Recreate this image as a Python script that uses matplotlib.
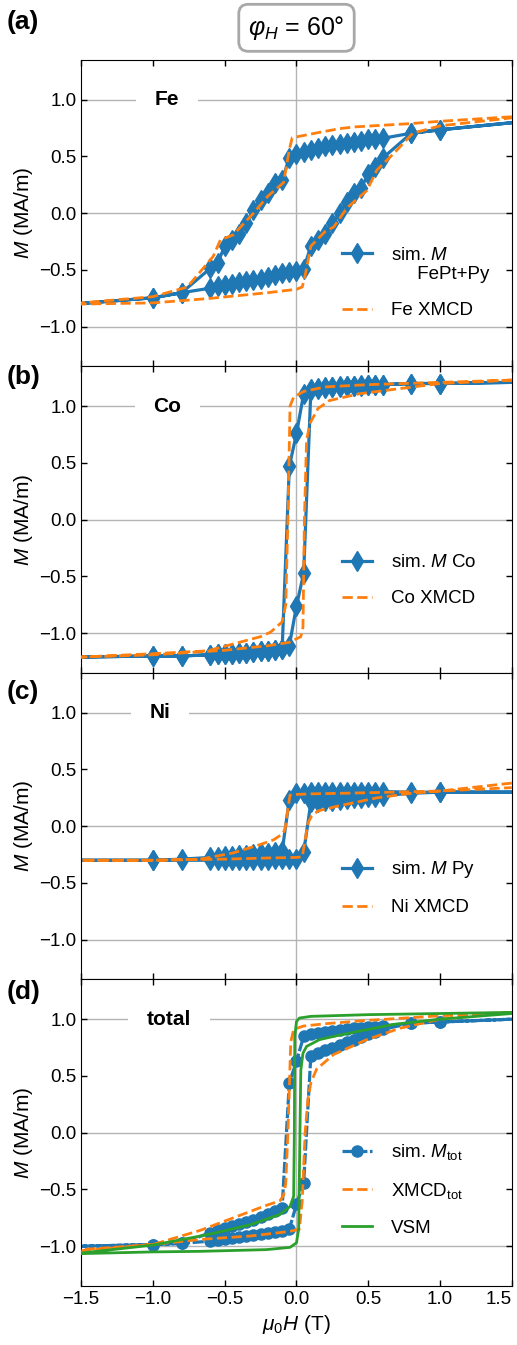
import matplotlib
matplotlib.use('Agg')
import matplotlib.pyplot as plt

plt.rcParams['font.family'] = ['Liberation Sans', 'DejaVu Sans']
plt.rcParams['mathtext.fontset'] = 'custom'
plt.rcParams['mathtext.rm'] = 'Liberation Sans'
plt.rcParams['mathtext.it'] = 'Liberation Sans:italic'
plt.rcParams['mathtext.bf'] = 'Liberation Sans:bold'

### field grid of the simulation (descending branch), ascending is the reverse
h_down = [2.0, 1.0, 0.8, 0.6, 0.55, 0.5, 0.45, 0.4, 0.35, 0.3, 0.25, 0.2, 0.15, 0.1, 0.05, 0.0,
          -0.05, -0.1, -0.15, -0.2, -0.25, -0.3, -0.35, -0.4, -0.45, -0.5, -0.55, -0.6, -0.8, -1.0, -2.0]
h_up = h_down[::-1]

### (a) Fe
fe_sim_down = [0.86, 0.735, 0.705, 0.66, 0.655, 0.65, 0.64, 0.63, 0.62, 0.61, 0.60, 0.59, 0.575, 0.56, 0.54, 0.52,
               0.49, 0.29, 0.27, 0.18, 0.12, 0.03, -0.09, -0.18, -0.235, -0.29, -0.44, -0.485, -0.70, -0.745, -0.845]
fe_sim_up = [-0.845, -0.745, -0.70, -0.66, -0.645, -0.63, -0.62, -0.61, -0.60, -0.585, -0.575, -0.56, -0.545, -0.53, -0.515, -0.505,
             -0.49, -0.29, -0.235, -0.18, -0.09, 0.0, 0.10, 0.18, 0.22, 0.35, 0.41, 0.485, 0.705, 0.735, 0.86]
fe_xmcd_down_h = [1.5, 1.0, 0.8, 0.6, 0.4, 0.3, 0.15, 0.03, -0.03, -0.05, -0.09, -0.2, -0.3, -0.44, -0.53, -0.58, -0.76, -1.0, -1.5]
fe_xmcd_down_m = [0.85, 0.81, 0.79, 0.775, 0.76, 0.745, 0.71, 0.68, 0.665, 0.56, 0.27, 0.15, 0.0, -0.19, -0.235, -0.38, -0.65, -0.735, -0.79]
fe_xmcd_up_h = [-1.5, -1.0, -0.8, -0.6, -0.4, -0.2, 0.0, 0.04, 0.06, 0.1, 0.2, 0.26, 0.35, 0.49, 0.56, 0.68, 0.81, 1.0, 1.5]
fe_xmcd_up_m = [-0.80, -0.79, -0.77, -0.75, -0.725, -0.70, -0.67, -0.65, -0.55, -0.29, -0.16, -0.12, 0.045, 0.20, 0.38, 0.53, 0.705, 0.77, 0.84]

### (b) Co
co_sim_down = [1.22, 1.20, 1.20, 1.19, 1.19, 1.185, 1.185, 1.18, 1.18, 1.175, 1.17, 1.165, 1.16, 1.15, 1.11, 0.76,
               0.47, -1.14, -1.15, -1.155, -1.16, -1.165, -1.17, -1.175, -1.18, -1.18, -1.185, -1.19, -1.20, -1.20, -1.22]
co_sim_up = [-1.22, -1.20, -1.20, -1.19, -1.185, -1.18, -1.18, -1.175, -1.17, -1.165, -1.16, -1.155, -1.15, -1.14, -1.11, -0.76,
             -0.47, 1.14, 1.15, 1.16, 1.165, 1.17, 1.175, 1.18, 1.18, 1.185, 1.185, 1.19, 1.20, 1.20, 1.22]
co_xmcd_down_h = [1.5, 1.0, 0.5, 0.2, 0.05, -0.02, -0.045, -0.06, -0.075, -0.1, -0.18, -0.25, -0.62, -1.0, -1.5]
co_xmcd_down_m = [1.23, 1.21, 1.19, 1.17, 1.13, 1.08, 1.0, 0.0, -0.75, -0.90, -0.99, -1.03, -1.155, -1.18, -1.21]
co_xmcd_up_h = [-1.5, -1.0, -0.5, -0.2, -0.05, 0.03, 0.045, 0.055, 0.07, 0.094, 0.15, 0.23, 0.44, 1.0, 1.5]
co_xmcd_up_m = [-1.21, -1.19, -1.15, -1.11, -1.08, -1.03, -0.95, 0.0, 0.7, 0.85, 0.98, 1.05, 1.11, 1.20, 1.23]

### (c) Ni
ni_sim_down = [0.30, 0.30, 0.30, 0.305, 0.305, 0.305, 0.305, 0.305, 0.305, 0.305, 0.30, 0.30, 0.30, 0.30, 0.295, 0.29,
               0.235, -0.22, -0.23, -0.235, -0.24, -0.245, -0.25, -0.255, -0.26, -0.265, -0.27, -0.275, -0.29, -0.30, -0.30]
ni_sim_up = [-0.30, -0.30, -0.30, -0.30, -0.30, -0.30, -0.30, -0.30, -0.30, -0.295, -0.295, -0.295, -0.29, -0.29, -0.29, -0.29,
             -0.23, 0.21, 0.215, 0.22, 0.225, 0.23, 0.24, 0.245, 0.25, 0.255, 0.26, 0.27, 0.29, 0.30, 0.30]
ni_xmcd_down_h = [1.5, 1.0, 0.5, 0.1, 0.0, -0.045, -0.06, -0.08, -0.1, -0.16, -0.25, -0.44, -0.67, -1.0, -1.5]
ni_xmcd_down_m = [0.38, 0.31, 0.295, 0.285, 0.28, 0.275, 0.15, -0.03, -0.07, -0.12, -0.16, -0.235, -0.29, -0.30, -0.30]
ni_xmcd_up_h = [-1.5, -1.0, -0.5, -0.2, 0.0, 0.04, 0.06, 0.08, 0.106, 0.15, 0.28, 0.56, 0.8, 1.0, 1.5]
ni_xmcd_up_m = [-0.30, -0.30, -0.29, -0.28, -0.275, -0.27, -0.12, 0.03, 0.09, 0.135, 0.175, 0.25, 0.29, 0.31, 0.34]

### (d) total
tot_sim_down = [1.025, 0.975, 0.965, 0.94, 0.935, 0.93, 0.925, 0.92, 0.91, 0.905, 0.90, 0.89, 0.88, 0.87, 0.85, 0.63,
                0.44, -0.66, -0.69, -0.72, -0.74, -0.765, -0.785, -0.80, -0.82, -0.84, -0.86, -0.88, -0.975, -0.985, -1.015]
tot_sim_up = [-1.015, -0.985, -0.975, -0.955, -0.945, -0.935, -0.93, -0.92, -0.91, -0.90, -0.895, -0.885, -0.875, -0.865, -0.85, -0.63,
              -0.44, 0.68, 0.70, 0.73, 0.75, 0.775, 0.80, 0.82, 0.84, 0.87, 0.89, 0.91, 0.965, 0.975, 1.025]
tot_xmcd_down_h = [1.5, 1.0, 0.5, 0.2, 0.05, -0.02, -0.04, -0.06, -0.075, -0.09, -0.115, -0.21, -0.44, -0.67, -1.0, -1.5]
tot_xmcd_down_m = [1.06, 1.03, 0.99, 0.96, 0.94, 0.91, 0.80, 0.0, -0.45, -0.55, -0.60, -0.64, -0.75, -0.86, -0.985, -1.04]
tot_xmcd_up_h = [-1.5, -1.0, -0.67, -0.32, -0.05, 0.02, 0.04, 0.06, 0.08, 0.1, 0.14, 0.26, 0.49, 0.72, 1.0, 1.5]
tot_xmcd_up_m = [-1.03, -0.985, -0.94, -0.91, -0.87, -0.85, -0.6, 0.0, 0.3, 0.44, 0.56, 0.69, 0.82, 0.92, 1.0, 1.06]
vsm_down_h = [1.5, 1.0, 0.5, 0.1, 0.02, 0.0, -0.012, -0.015, -0.02, -0.045, -0.115, -0.32, -0.555, -0.67, -1.0, -1.5]
vsm_down_m = [1.06, 1.05, 1.04, 1.025, 1.01, 0.98, 0.85, 0.0, -0.56, -0.65, -0.72, -0.81, -0.88, -0.91, -0.99, -1.06]
vsm_up_h = [-1.5, -1.0, -0.67, -0.21, -0.045, 0.0, 0.015, 0.024, 0.03, 0.045, 0.07, 0.16, 0.3, 0.5, 0.68, 1.0, 1.5]
vsm_up_m = [-1.065, -1.05, -1.045, -1.03, -1.01, -0.97, -0.85, 0.0, 0.55, 0.70, 0.76, 0.82, 0.86, 0.91, 0.955, 1.0, 1.05]

elements = ['Fe', 'Co', 'Ni', 'total']
panel_tags = ['(a)', '(b)', '(c)', '(d)']
sim_labels = ['sim. $M$\n     FePt+Py', 'sim. $M$ Co', 'sim. $M$ Py', 'sim. $M_{\\mathrm{tot}}$']
xmcd_labels = ['Fe XMCD', 'Co XMCD', 'Ni XMCD', 'XMCD$_{\\mathrm{tot}}$']

sims = [(fe_sim_down, fe_sim_up), (co_sim_down, co_sim_up), (ni_sim_down, ni_sim_up), (tot_sim_down, tot_sim_up)]
xmcds = [(fe_xmcd_down_h, fe_xmcd_down_m, fe_xmcd_up_h, fe_xmcd_up_m),
         (co_xmcd_down_h, co_xmcd_down_m, co_xmcd_up_h, co_xmcd_up_m),
         (ni_xmcd_down_h, ni_xmcd_down_m, ni_xmcd_up_h, ni_xmcd_up_m),
         (tot_xmcd_down_h, tot_xmcd_down_m, tot_xmcd_up_h, tot_xmcd_up_m)]

blue, orange, green = '#1f77b4', '#ff7f0e', '#2ca02c'
grid_c = '#b4b4b4'

fig, axes = plt.subplots(4, 1, figsize=(5.17, 13.45), dpi=100, sharex=True)
fig.subplots_adjust(left=0.157, right=0.990, top=0.9554, bottom=0.0439, hspace=0)

elem_x = [-0.9, -0.9, -0.95, -0.89]
tag_y = [22, 377, 692, 992]
leg_y = [0.154, 0.215, 0.206, 0.16]

for i, ax in enumerate(axes):
    for y in (-1, 0, 1):
        ax.axhline(y, color=grid_c, lw=1.0, zorder=0)
    ax.axvline(0, color=grid_c, lw=1.0, zorder=0)

    down, up = sims[i]
    if i < 3:
        ax.plot(h_down + h_up, down + up, color=blue, lw=2.3, marker='d', ms=10,
                label=sim_labels[i], zorder=2)
    else:
        ax.plot(h_down + h_up, down + up, color=blue, lw=2.3, marker='o', ms=8,
                dashes=(3.5, 0.8), label=sim_labels[i], zorder=2)
    dh, dm, uh, um = xmcds[i]
    ax.plot(dh + uh, dm + um, color=orange, lw=2, ls='--', label=xmcd_labels[i], zorder=3)
    if i == 3:
        ax.plot(vsm_down_h + vsm_up_h, vsm_down_m + vsm_up_m, color=green, lw=2,
                label='VSM', zorder=4)

    ax.text(elem_x[i], 1.0, elements[i], fontsize=15, fontweight='bold', ha='center', va='center',
            bbox=dict(boxstyle='square,pad=0.9', fc='white', ec='none'), zorder=1)

    ax.set_xlim(-1.5, 1.5)
    ax.set_ylim(-1.35, 1.35)
    ax.set_xticks([-1.5, -1.0, -0.5, 0.0, 0.5, 1.0, 1.5])
    ax.set_yticks([-1.0, -0.5, 0.0, 0.5, 1.0])
    ax.tick_params(direction='in', top=True, right=True, labelsize=13.5, length=4, width=1)
    ax.set_ylabel('$M$ (MA/m)', fontsize=15, labelpad=3)

    leg = ax.legend(loc='lower left', bbox_to_anchor=(0.6056, leg_y[i]), frameon=False,
                    fontsize=13.5, borderpad=0, borderaxespad=0, handlelength=1.6,
                    handletextpad=1.0, labelspacing=1.0)
    if i == 0:
        # handle next to the first line of the two-line label
        leg._legend_handle_box.get_children()[0].get_children()[0].align = 'top'

    fig.text(0.012, 1 - tag_y[i] / 1345, panel_tags[i], fontsize=19, fontweight='bold',
             ha='left', va='center')

axes[-1].set_xlabel('$\\mu_0H$ (T)', fontsize=15)
xt = axes[-1].get_xticklabels()
xt[-1].set_ha('right')

axes[0].text(0.5, 1.105, '$\\varphi_H$ = 60°', transform=axes[0].transAxes, ha='center', va='center',
             fontsize=18, bbox=dict(boxstyle='round,pad=0.38', fc='white', ec='#a8a8a8', lw=2))

fig.savefig('out.png', dpi=100)
